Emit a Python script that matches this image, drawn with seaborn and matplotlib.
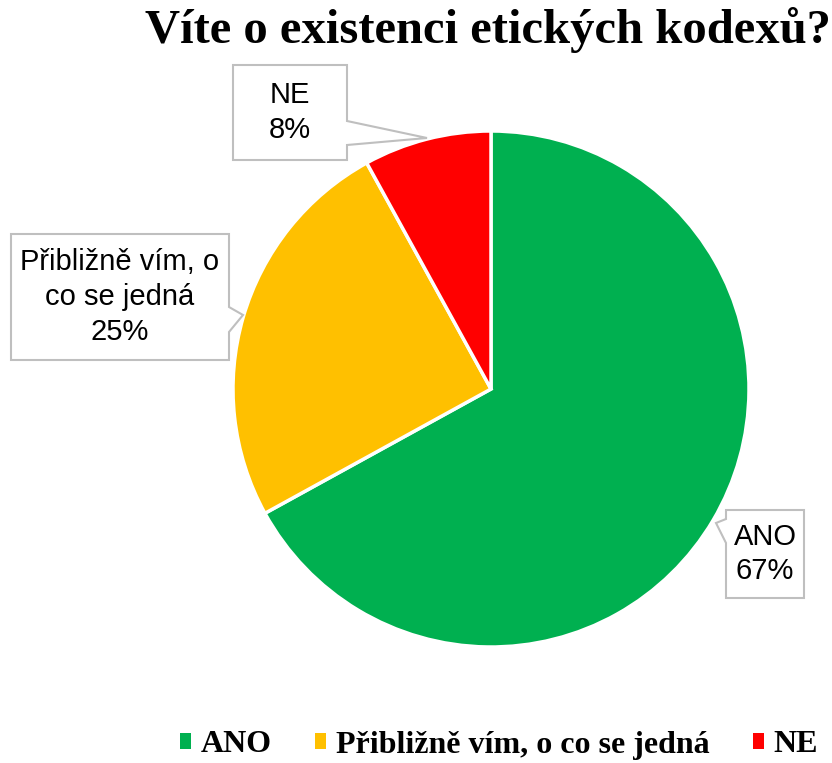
import matplotlib
matplotlib.use("Agg")
import matplotlib.pyplot as plt
import seaborn as sns
from matplotlib.patches import Polygon, Patch

# data
labels = ["ANO", "Přibližně vím, o co se jedná", "NE"]
callout_labels = ["ANO", "Přibližně vím, o\nco se jedná", "NE"]
values = [67, 25, 8]
colors = ["#00B050", "#FFC000", "#FF0000"]

sns.set_theme(style="white")
plt.rcParams["font.family"] = ["Liberation Sans", "DejaVu Sans"]
plt.rcParams["text.color"] = "black"

W, H = 832, 763
fig = plt.figure(figsize=(W / 100, H / 100), dpi=100)
ax = fig.add_axes([0, 0, 1, 1])
ax.set_aspect("equal")
ax.axis("off")

center = (491, H - 389)
radius = 258
ax.pie(values, colors=colors, startangle=90, counterclock=False,
       center=center, radius=radius,
       wedgeprops=dict(edgecolor="white", linewidth=2.5))
ax.set_xlim(0, W)
ax.set_ylim(0, H)


def flip(pts):
    return [(x, H - y) for x, y in pts]


# callout boxes (pixel coords, top-left origin): box, pointer
callouts = [
    dict(box=(726, 510, 804, 598), ptr=[(726, 519), (716, 523), (726, 543)], side="left"),
    dict(box=(11, 234, 229, 360), ptr=[(229, 307), (243, 315), (229, 332)], side="right"),
    dict(box=(233, 65, 347, 160), ptr=[(347, 121), (427, 138), (347, 145)], side="right"),
]

for lab, val, c in zip(callout_labels, values, callouts):
    x0, y0, x1, y1 = c["box"]
    p = c["ptr"]
    if c["side"] == "right":
        pts = [(x0, y0), (x1, y0), p[0], p[1], p[2], (x1, y1), (x0, y1)]
    else:
        pts = [(x0, y0), (x1, y0), (x1, y1), (x0, y1), p[2], p[1], p[0]]
    ax.add_patch(Polygon(flip(pts), closed=True, facecolor="white",
                         edgecolor="#BFBFBF", linewidth=1.5, zorder=5))
    ax.text((x0 + x1) / 2, H - (y0 + y1) / 2, f"{lab}\n{val}%",
            ha="center", va="center", fontsize=21, linespacing=1.3,
            color="black", zorder=6)

fig.text(488 / W, 1 - 30 / H, "Víte o existenci etických kodexů?",
         ha="center", va="center", fontsize=35, fontweight="bold",
         color="black", family=["Liberation Serif", "DejaVu Serif"])

handles = [Patch(facecolor=c, edgecolor="none") for c in colors]
leg = fig.legend(handles, labels, loc="center", bbox_to_anchor=(499 / W, 1 - 745 / H),
                 ncol=3, frameon=False, handlelength=0.35, handleheight=0.35,
                 handletextpad=0.3, columnspacing=1.35, borderpad=0, borderaxespad=0,
                 prop=dict(family=["Liberation Serif", "DejaVu Serif"], weight="bold", size=23))
for t in leg.get_texts():
    t.set_color("black")

fig.savefig("out.png", dpi=100)
